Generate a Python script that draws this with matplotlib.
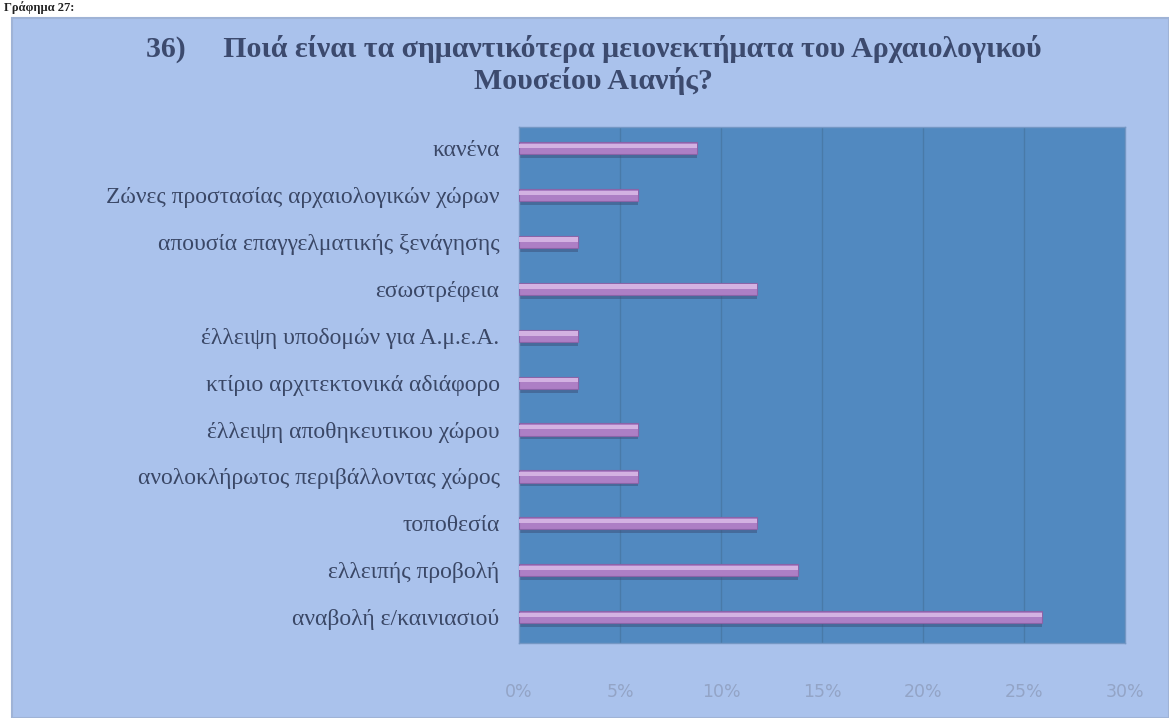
import matplotlib.pyplot as plt
import matplotlib.patches as mpatches
from matplotlib.ticker import PercentFormatter

# Survey answers, bottom to top as drawn
categories = [
    'αναβολή ε/καινιασιού',
    'ελλειπής προβολή',
    'τοποθεσία',
    'ανολοκλήρωτος περιβάλλοντας χώρος',
    'έλλειψη αποθηκευτικου χώρου',
    'κτίριο αρχιτεκτονικά αδιάφορο',
    'έλλειψη υποδομών για Α.μ.ε.Α.',
    'εσωστρέφεια',
    'απουσία επαγγελματικής ξενάγησης',
    'Ζώνες προστασίας αρχαιολογικών χώρων',
    'κανένα',
]
values = [0.259, 0.138, 0.118, 0.059, 0.059, 0.029, 0.029, 0.118, 0.029, 0.059, 0.088]
xticks = [0, 0.05, 0.10, 0.15, 0.20, 0.25, 0.30]

title = ('36)     Ποιά είναι τα σημαντικότερα μειονεκτήματα του Αρχαιολογικού\n'
         'Μουσείου Αιανής?')

fig = plt.figure(figsize=(11.69, 7.18), dpi=100)
fig.patch.set_facecolor('white')

# light blue chart area with a thin border (kept behind the axes)
frame = mpatches.Rectangle((12 / 1169, 0), 1 - 12 / 1169, 1 - 18 / 718,
                           transform=fig.transFigure, facecolor='#aac2ec',
                           edgecolor='#9fb3d6', linewidth=1.5, zorder=-10)
fig.patches.append(frame)

# caption above the chart
fig.text(0.003, 0.999, 'Γράφημα 27:', ha='left', va='top', fontsize=9,
         fontweight='bold', family='Liberation Serif', color='#222222')

fig.text(0.508, 0.91, title, ha='center', va='center', fontsize=21.5,
         fontweight='bold', family='Liberation Serif', color='#3c4a6e',
         linespacing=1.2)

ax = fig.add_axes([519 / 1169, 1 - 643 / 718, 606 / 1169, 516 / 718])
ax.set_facecolor('#5189c0')

y = range(len(categories))
# shadow under each bar
ax.barh([i - 0.07 for i in y], values, height=0.28, color='#3a4f78',
        alpha=0.5, zorder=2)
ax.barh(y, values, height=0.26, color='#ad7fc5', edgecolor='#8a64a8',
        linewidth=0.8, zorder=3)
# highlight on top of bars
ax.barh([i + 0.05 for i in y], values, height=0.09, color='#d3b2e2',
        linewidth=0, zorder=4)

ax.set_xlim(0, 0.30)
ax.set_ylim(-0.55, 10.45)
ax.set_xticks(xticks)
ax.xaxis.set_major_formatter(PercentFormatter(1.0, decimals=0))
ax.set_yticks(list(y))
ax.set_yticklabels(categories, family='Liberation Serif', fontsize=17,
                   color='#3a4766')
ax.tick_params(axis='x', labelsize=12.5, length=0, pad=29)
ax.tick_params(axis='y', length=0, pad=14)
for lab in ax.get_xticklabels():
    lab.set_color('#93a4c6')

ax.grid(axis='x', color='#47759f', linewidth=1.0, alpha=0.7, zorder=1)
ax.set_axisbelow(True)
for s in ax.spines.values():
    s.set_color('#7497c4')
    s.set_linewidth(1.0)

fig.savefig('out.png', dpi=100, facecolor=fig.get_facecolor())
